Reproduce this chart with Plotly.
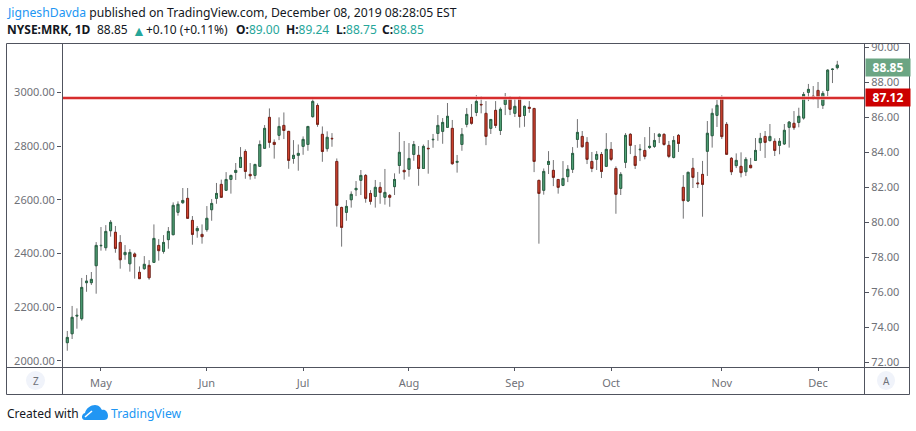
import pandas as pd
import plotly.graph_objects as go

# Daily session prices for NYSE:MRK, 22 Apr - 6 Dec 2019
opens = [73.13, 73.64, 74.65, 74.50, 76.56, 76.56, 77.53, 78.67, 78.56, 79.53,
         79.44, 78.86, 78.16, 77.64, 78.20, 77.15, 77.36, 76.84, 77.72, 78.69,
         78.35, 79.02, 79.30, 80.58, 81.13, 81.38, 80.12, 79.53, 79.32, 79.59,
         80.73, 81.38, 82.18, 81.84, 82.46, 82.86, 83.15, 84.06, 82.75, 82.69,
         83.21, 84.24, 86.01, 84.58, 84.98, 85.55, 85.21, 83.66, 83.84, 84.35,
         84.46, 86.05, 86.69, 85.04, 84.22, 84.81, 83.49, 80.86, 80.58, 81.30,
         81.87, 82.41, 82.69, 81.66, 81.49, 82.01, 81.44, 81.55, 82.05, 83.26,
         82.98, 83.04, 83.89, 83.84, 83.09, 84.24, 84.73, 85.09, 85.21, 85.44,
         85.38, 83.44, 84.46, 85.61, 86.01, 86.29, 86.75, 86.24, 85.38, 86.41,
         85.26, 86.75, 87.15, 86.24, 87.15, 86.12, 86.52, 86.52, 82.41, 81.84,
         83.32, 82.98, 82.46, 82.12, 82.62, 83.04, 84.75, 84.92, 84.58, 83.49,
         83.61, 83.89, 83.21, 84.18, 83.09, 81.95, 83.44, 85.04, 83.78, 84.16,
         84.12, 84.29, 84.35, 84.92, 85.04, 84.41, 83.72, 84.98, 82.01, 81.23,
         83.10, 82.26, 82.75, 84.07, 84.96, 86.12, 87.12, 85.61, 83.67, 83.25,
         83.21, 82.90, 83.27, 83.55, 84.56, 84.92, 84.68, 84.64, 84.41, 84.49,
         85.44, 85.67, 85.72, 85.97, 87.44, 87.17, 87.55, 86.70, 87.55, 88.77, 89.00]
highs = [73.80, 75.23, 75.09, 76.83, 77.00, 77.17, 78.88, 79.74, 79.85, 80.14,
         79.80, 79.28, 78.71, 78.48, 78.29, 77.49, 78.08, 77.85, 79.89, 79.05,
         79.28, 79.74, 81.15, 81.21, 81.97, 81.97, 80.37, 79.80, 79.89, 80.94,
         81.34, 82.26, 82.45, 82.88, 82.73, 83.40, 84.31, 84.18, 83.40, 83.34,
         84.69, 85.57, 86.52, 84.75, 86.01, 86.29, 85.21, 84.71, 84.46, 84.92,
         85.49, 87.09, 86.81, 85.49, 85.21, 85.11, 83.66, 80.90, 81.28, 81.78,
         82.37, 83.00, 82.77, 81.85, 82.43, 82.31, 83.06, 81.63, 82.81, 85.17,
         84.66, 84.54, 84.66, 84.37, 84.46, 84.71, 85.06, 86.14, 85.97, 86.83,
         85.86, 83.86, 85.40, 86.54, 86.77, 87.28, 87.23, 86.94, 85.89, 86.94,
         86.58, 87.40, 87.23, 87.06, 87.23, 86.69, 86.94, 86.54, 82.43, 83.09,
         84.08, 83.57, 82.48, 83.51, 83.28, 84.31, 85.91, 85.23, 84.88, 84.03,
         84.08, 84.03, 85.11, 84.60, 83.21, 82.88, 85.11, 85.11, 84.43, 84.48,
         84.88, 85.46, 85.11, 85.11, 85.09, 84.66, 84.94, 85.06, 82.71, 82.89,
         83.69, 82.89, 83.52, 85.80, 86.52, 87.00, 87.27, 85.74, 83.74, 83.95,
         84.01, 83.74, 83.69, 84.83, 85.12, 85.23, 85.63, 84.81, 84.83, 85.63,
         85.80, 86.37, 86.56, 87.46, 87.92, 87.80, 88.03, 87.52, 88.75, 88.81, 89.24]
lows = [72.67, 73.34, 73.93, 74.39, 76.04, 76.43, 75.93, 78.39, 78.39, 79.19,
        78.27, 77.36, 77.87, 77.19, 76.79, 76.79, 77.30, 76.73, 77.72, 77.82,
        78.22, 78.50, 79.30, 80.39, 81.07, 80.24, 78.73, 79.13, 78.79, 79.47,
        80.10, 81.07, 81.44, 81.84, 81.65, 82.43, 83.15, 82.50, 82.45, 82.50,
        83.21, 84.22, 84.27, 83.65, 84.71, 84.77, 83.07, 83.36, 82.96, 83.87,
        84.10, 85.99, 85.47, 83.47, 84.05, 84.33, 79.76, 78.62, 80.10, 80.85,
        81.51, 81.57, 81.13, 81.02, 80.85, 81.07, 81.02, 80.90, 81.57, 82.79,
        82.45, 82.62, 83.53, 82.10, 83.09, 82.79, 84.27, 84.67, 84.50, 85.44,
        83.30, 82.85, 84.10, 85.44, 85.59, 86.08, 86.24, 84.42, 85.06, 85.40,
        85.00, 86.14, 86.14, 86.03, 85.42, 85.47, 86.27, 82.88, 78.79, 81.59,
        82.77, 82.08, 81.65, 82.08, 82.31, 82.83, 84.27, 84.29, 83.34, 82.88,
        83.00, 82.54, 83.17, 83.51, 80.50, 81.57, 83.11, 83.91, 83.06, 83.51,
        83.61, 84.20, 84.26, 84.54, 84.39, 83.68, 83.66, 84.03, 80.22, 81.17,
        81.97, 81.97, 80.33, 82.66, 84.28, 85.46, 84.77, 83.86, 82.71, 83.11,
        82.58, 82.66, 83.11, 83.53, 84.09, 83.69, 84.64, 83.80, 83.90, 84.43,
        84.28, 85.29, 85.44, 85.88, 86.94, 87.00, 86.54, 86.49, 87.21, 87.97, 88.75]
closes = [73.43, 74.58, 74.69, 76.29, 76.65, 76.75, 78.69, 78.69, 79.49, 80.01,
          78.52, 77.87, 78.29, 78.29, 78.05, 76.79, 77.61, 77.55, 79.09, 78.39,
          78.86, 79.49, 80.98, 81.04, 81.26, 80.24, 79.32, 79.66, 79.19, 80.24,
          81.09, 81.66, 81.44, 82.46, 82.69, 82.98, 83.72, 82.92, 82.67, 83.32,
          84.46, 85.38, 84.58, 84.46, 85.49, 85.26, 83.55, 83.84, 83.95, 84.75,
          85.49, 86.92, 85.61, 84.06, 84.87, 84.79, 80.98, 79.72, 80.92, 81.61,
          81.95, 82.69, 81.38, 81.21, 82.01, 81.72, 81.72, 81.44, 82.46, 84.01,
          82.90, 83.66, 84.46, 83.09, 84.35, 84.22, 84.75, 85.55, 85.72, 86.07,
          83.36, 83.49, 85.04, 86.18, 85.67, 86.92, 86.73, 84.92, 85.89, 85.55,
          86.47, 87.09, 86.47, 86.64, 86.06, 86.64, 86.58, 83.49, 81.66, 82.92,
          83.49, 82.58, 82.01, 82.52, 83.04, 83.95, 85.15, 84.33, 83.61, 83.09,
          83.89, 82.92, 84.18, 83.61, 81.61, 82.75, 84.98, 84.41, 83.26, 84.18,
          83.78, 84.35, 84.69, 85.04, 84.46, 83.78, 84.69, 84.52, 81.25, 82.87,
          82.58, 82.22, 82.18, 85.10, 86.24, 86.70, 84.91, 83.90, 82.90, 83.55,
          82.85, 83.61, 83.13, 84.12, 84.81, 84.58, 84.92, 84.12, 84.64, 85.27,
          85.74, 85.42, 86.07, 87.32, 87.61, 87.21, 87.04, 87.38, 88.71, 88.75, 88.85]

market_holidays = ["2019-05-27", "2019-07-04", "2019-09-02", "2019-11-28"]
sessions = [d.strftime("%Y-%m-%d") for d in pd.bdate_range("2019-04-22", "2019-12-06")
            if d.strftime("%Y-%m-%d") not in market_holidays]

month_starts = ["2019-05-01", "2019-06-03", "2019-07-01", "2019-08-01",
                "2019-09-03", "2019-10-01", "2019-11-01", "2019-12-02"]
month_labels = ["May", "Jun", "Jul", "Aug", "Sep", "Oct", "Nov", "Dec"]

left_ticks = [2000, 2200, 2400, 2600, 2800, 3000]
right_ticks = [72, 74, 76, 78, 80, 82, 84, 86, 88, 90]
level_price = 87.12
last_price = 88.85

W, H = 916, 431
L, R, T, B = 62, 52, 43, 64
PW, PH = W - L - R, H - T - B

UP_FILL, UP_EDGE = "#55a87c", "#2a6345"
DOWN_FILL, DOWN_EDGE = "#e04a34", "#7e2218"
WICK = "#737375"
AXIS = "#50535e"
TICK_TEXT = "#6f7178"
BOX_GREEN, BOX_RED = "#6ba583", "#cc0000"
LINK_BLUE = "#2196f3"
TEAL = "#26a69a"
FONT = "Noto Sans"


def px(x):
    return (x - L) / PW


def py(y):
    return 1 - (y - T) / PH


def path(points):
    return " ".join(f"{c} " + " ".join(f"{px(x):.5f},{py(y):.5f}" for x, y in pts)
                    for c, pts in points)


# A session is coloured by its close against the previous close
previous = [opens[0]] + closes[:-1]
rising = [c >= p for c, p in zip(closes, previous)]


def body_trace(flag, fill, edge):
    idx = [i for i, r in enumerate(rising) if r == flag]
    style = dict(line=dict(color=edge, width=1), fillcolor=fill)
    return go.Candlestick(
        x=[sessions[i] for i in idx],
        open=[opens[i] for i in idx],
        close=[closes[i] for i in idx],
        high=[max(opens[i], closes[i]) for i in idx],
        low=[min(opens[i], closes[i]) for i in idx],
        increasing=style, decreasing=style,
        whiskerwidth=0, hoverinfo="skip", showlegend=False,
    )


fig = go.Figure()

# Wicks first, bodies with their own outline on top
wick_style = dict(line=dict(color=WICK, width=1), fillcolor=WICK)
fig.add_trace(go.Candlestick(
    x=sessions, open=opens, high=highs, low=lows, close=closes,
    increasing=wick_style, decreasing=wick_style,
    whiskerwidth=0, hoverinfo="skip", showlegend=False,
))
fig.add_trace(body_trace(True, UP_FILL, UP_EDGE))
fig.add_trace(body_trace(False, DOWN_FILL, DOWN_EDGE))

# Keeps the left-hand index scale alive
fig.add_trace(go.Scatter(x=sessions[:2], y=left_ticks[:2], yaxis="y2", mode="none",
                         hoverinfo="skip", showlegend=False))

shapes = [
    # outer frame and panel dividers
    dict(type="rect", xref="paper", yref="paper", x0=px(6.5), x1=px(909.5), y0=py(394.5), y1=py(43.5),
         line=dict(color=AXIS, width=1), layer="above"),
    dict(type="line", xref="paper", yref="paper", x0=px(62.5), x1=px(62.5), y0=py(394.5), y1=py(43.5),
         line=dict(color=AXIS, width=1), layer="above"),
    dict(type="line", xref="paper", yref="paper", x0=px(864.5), x1=px(864.5), y0=py(394.5), y1=py(43.5),
         line=dict(color=AXIS, width=1), layer="above"),
    dict(type="line", xref="paper", yref="paper", x0=px(6.5), x1=px(909.5), y0=py(367.5), y1=py(367.5),
         line=dict(color=AXIS, width=1), layer="above"),
    # horizontal resistance level, soft halo under a solid core
    dict(type="line", xref="paper", yref="y", x0=px(63), x1=px(864), y0=level_price, y1=level_price,
         line=dict(color="#f4b4b4", width=3.6), layer="above"),
    dict(type="line", xref="paper", yref="y", x0=px(63), x1=px(864), y0=level_price, y1=level_price,
         line=dict(color=BOX_RED, width=1.5), layer="above"),
    # tick notches on the price tags
    dict(type="line", xref="paper", yref="y", x0=px(865), x1=px(869), y0=last_price, y1=last_price,
         line=dict(color="white", width=1), layer="above"),
    dict(type="line", xref="paper", yref="y", x0=px(865), x1=px(869), y0=level_price, y1=level_price,
         line=dict(color="white", width=1), layer="above"),
    # corner buttons
    dict(type="circle", xref="paper", yref="paper", x0=px(26), x1=px(45), y0=py(390), y1=py(371),
         fillcolor="#f0f3fa", line=dict(width=0), layer="above"),
    dict(type="circle", xref="paper", yref="paper", x0=px(877), x1=px(895), y0=py(390), y1=py(371),
         fillcolor="#f0f3fa", line=dict(width=0), layer="above"),
    # footer logo
    dict(type="path", xref="paper", yref="paper", fillcolor=LINK_BLUE, line=dict(width=0), layer="above",
         path=path([("M", [(85, 420)]),
                    ("C", [(81, 420), (81, 414), (85, 413)]),
                    ("C", [(86, 408), (91, 405), (95, 405)]),
                    ("C", [(99, 405), (101, 408), (102, 410)]),
                    ("C", [(105, 409), (108, 412), (108, 416)]),
                    ("C", [(108, 419), (106, 420), (104, 420)])]) + " Z"),
    dict(type="path", xref="paper", yref="paper", line=dict(color="white", width=1.6), layer="above",
         path=path([("M", [(85, 417)]), ("L", [(92, 411), (98, 417), (106, 410)])])),
]


def note(x, y, text, size=12, color="#131722", anchor="left", **kw):
    return dict(xref="paper", yref="paper", x=px(x), y=py(y), text=text, showarrow=False,
                xanchor=anchor, yanchor="middle", font=dict(family=FONT, size=size, color=color), **kw)


def teal(s):
    return f'<span style="color:{TEAL}">{s}</span>'


annotations = [
    note(5, 12.5, f'<span style="color:{LINK_BLUE}">JigneshDavda</span> published on TradingView.com, '
                  'December 08, 2019 08:28:05 EST', size=12.2),
    note(5, 29.5, "<b>NYSE:MRK, 1D</b>", size=12),
    note(95, 29.5, "88.85", size=12),
    note(130, 30, "▲", size=14, color=TEAL),
    note(144, 29.5, "+0.10 (+0.11%)", size=12),
    note(234, 29.5, f"<b>O:</b>{teal('89.00')}", size=12),
    note(284, 29.5, f"<b>H:</b>{teal('89.24')}", size=12),
    note(334, 29.5, f"<b>L:</b>{teal('88.75')}", size=12),
    note(380, 29.5, f"<b>C:</b>{teal('88.85')}", size=12),
    note(5, 413, "Created with", size=12),
    note(109, 413, "TradingView", size=12.2, color=LINK_BLUE),
    note(35.5, 380.5, "Z", size=10, color="#6f7178", anchor="center"),
    note(886, 380.5, "A", size=10, color="#6f7178", anchor="center"),
    # price tags on the right-hand scale
    dict(xref="paper", yref="y", x=px(865), y=last_price, text=f"<b>{last_price:.2f}</b>", showarrow=False,
         xanchor="left", yanchor="middle", width=44, height=17, bgcolor=BOX_GREEN, borderpad=0, xshift=0,
         align="center", font=dict(family=FONT, size=12, color="white")),
    dict(xref="paper", yref="y", x=px(865), y=level_price, text=f"<b>{level_price:.2f}</b>", showarrow=False,
         xanchor="left", yanchor="middle", width=44, height=17, bgcolor=BOX_RED, borderpad=0, xshift=0,
         align="center", font=dict(family=FONT, size=12, color="white")),
]

fig.update_layout(
    width=W, height=H,
    margin=dict(l=L, r=R, t=T, b=B, pad=0),
    paper_bgcolor="white", plot_bgcolor="white",
    showlegend=False, boxgap=0.42,
    font=dict(family=FONT, size=11, color=TICK_TEXT),
    shapes=shapes, annotations=annotations,
    xaxis=dict(
        type="category", categoryorder="array", categoryarray=sessions,
        range=[-1.10, 165.55], rangeslider=dict(visible=False),
        showgrid=False, zeroline=False, showline=False,
        tickmode="array", tickvals=month_starts, ticktext=month_labels,
        ticks="outside", ticklen=3, tickcolor=AXIS, tickwidth=1,
        ticklabelstandoff=3, tickfont=dict(family=FONT, size=11, color=TICK_TEXT),
    ),
    yaxis=dict(
        side="right", range=[71.74, 90.26], showgrid=False, zeroline=False, showline=False,
        tickmode="array", tickvals=right_ticks, ticktext=[f"{v:.2f}" for v in right_ticks],
        ticks="outside", ticklen=4, tickcolor=AXIS, tickwidth=1,
        tickfont=dict(family=FONT, size=11, color=TICK_TEXT),
    ),
    yaxis2=dict(
        side="left", overlaying="y", range=[1976.5, 3184.6], showgrid=False, zeroline=False, showline=False,
        tickmode="array", tickvals=left_ticks, ticktext=[f"{v:.2f}" for v in left_ticks],
        ticks="outside", ticklen=4, tickcolor=AXIS, tickwidth=1,
        tickfont=dict(family=FONT, size=11, color=TICK_TEXT),
    ),
)

fig.write_html("out.html", config=dict(displayModeBar=False))
